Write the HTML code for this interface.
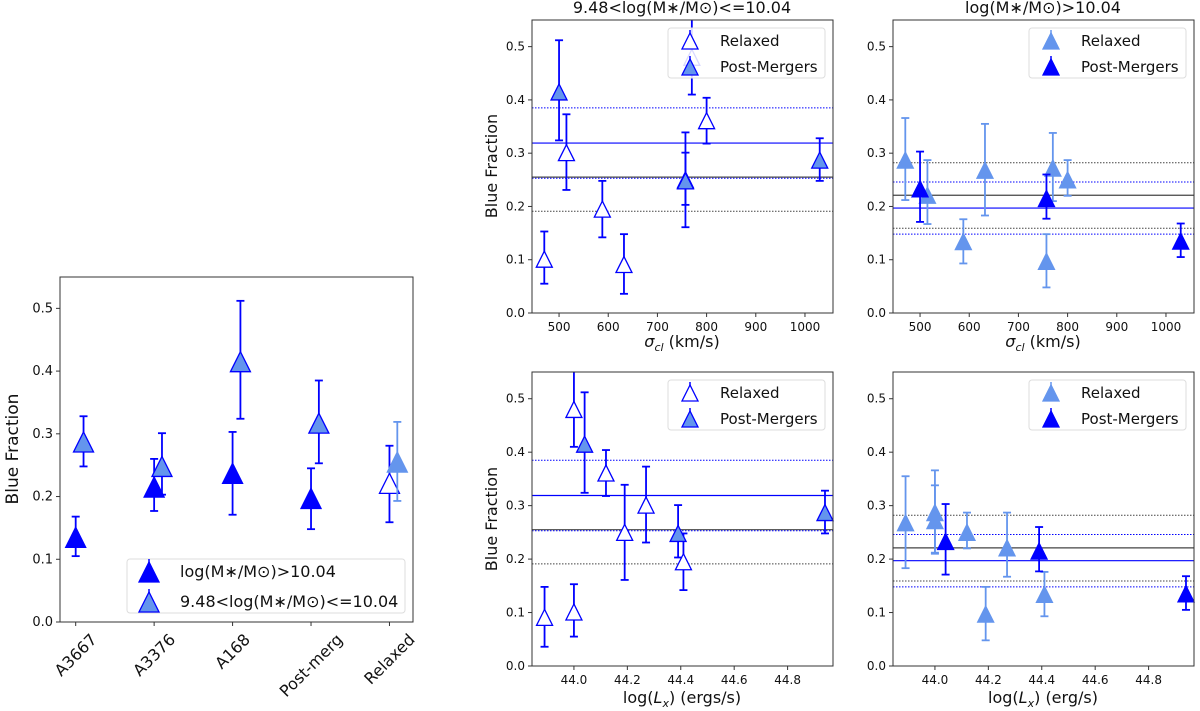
<!DOCTYPE html>
<html><head><meta charset="utf-8">
<style>
html,body{margin:0;padding:0;background:#fff;}
svg{display:block;font-family:"DejaVu Sans","Liberation Sans",sans-serif;}
</style></head>
<body>
<svg id="fig" width="1200" height="711" viewBox="0 0 1200 711" xmlns="http://www.w3.org/2000/svg"></svg>
<script>
// ---------- Left summary panel data ----------
const sumCats = ["A3667","A3376","A168","Post-merg","Relaxed"];
const sumHigh = [0.135,0.215,0.237,0.197,0.221];
const sumHighLo = [0.105,0.177,0.171,0.148,0.159];
const sumHighHi = [0.168,0.260,0.303,0.245,0.281];
const sumLow = [0.287,0.248,0.415,0.317,0.255];
const sumLowLo = [0.248,0.203,0.324,0.253,0.193];
const sumLowHi = [0.328,0.301,0.512,0.385,0.319];
const yTicks = [0.0,0.1,0.2,0.3,0.4,0.5];

// ---------- Cluster data (sigma, Lx) ----------
const relSigma = [470,515,588,632,757,770,800];
const pmSigma = [500,757,1030];
const pmLx    = [44.04,44.39,44.94];
// low-mass bin blue fractions
const relLowVal = [0.101,0.301,0.195,0.091,0.250,0.480,0.361];
const relLowLo  = [0.055,0.231,0.142,0.036,0.161,0.410,0.318];
const relLowHi  = [0.153,0.373,0.248,0.148,0.339,0.570,0.404];
const pmLowVal = [0.415,0.248,0.287];
const pmLowLo  = [0.324,0.203,0.248];
const pmLowHi  = [0.512,0.301,0.328];
// high-mass bin blue fractions
const relHighVal = [0.287,0.221,0.134,0.268,0.097,0.272,0.250];
const relHighLo  = [0.212,0.167,0.093,0.183,0.048,0.210,0.220];
const relHighHi  = [0.366,0.287,0.176,0.355,0.148,0.338,0.287];
const pmHighVal = [0.233,0.215,0.135];
const pmHighLo  = [0.171,0.177,0.105];
const pmHighHi  = [0.303,0.260,0.168];
// Lx for relaxed clusters (same order as relSigma)
const relLxVals = [44.0,44.27,44.41,43.89,44.19,44.0,44.12];
// reference lines
const lowLinesSolid = [{v:0.319,c:"#0000ff"},{v:0.255,c:"#444"}];
const lowLinesDot = [{v:0.385,c:"#0000ff"},{v:0.253,c:"#0000ff"},{v:0.191,c:"#444"}];
const highLinesSolid = [{v:0.221,c:"#444"},{v:0.197,c:"#0000ff"}];
const highLinesDot = [{v:0.282,c:"#444"},{v:0.159,c:"#444"},{v:0.246,c:"#0000ff"},{v:0.148,c:"#0000ff"}];
const sigTicks = [500,600,700,800,900,1000];
const lxTicks = [44.0,44.2,44.4,44.6,44.8];

const NS="http://www.w3.org/2000/svg";
const svg=document.getElementById('fig');
const BLUE="#0000ff", LIGHT="#6495ed";
function mk(tag,attrs,parent){const e=document.createElementNS(NS,tag);for(const k in attrs)e.setAttribute(k,attrs[k]);(parent||svg).appendChild(e);return e;}
function txt(s,attrs,parent){const e=mk('text',attrs,parent);e.textContent=s;return e;}

function makeAxes(name,L,R,T,B,xmin,xmax){
  const g=mk('g',{});
  
  
  const sx=v=>L+(v-xmin)/(xmax-xmin)*(R-L);
  const sy=v=>B-(v-0)/(0.55)*(B-T);
  return {g,sx,sy,L,R,T,B};
}
function frame(ax){
  const r=mk('rect',{x:ax.L,y:ax.T,width:ax.R-ax.L,height:ax.B-ax.T,fill:'none',stroke:'#333','stroke-width':1},ax.g);
  
  
}
function yAxis(ax,fs){
  yTicks.forEach(t=>{
    const y=ax.sy(t);
    mk('line',{x1:ax.L-4,x2:ax.L,y1:y,y2:y,stroke:'#333'},ax.g);
    const e=txt(t.toFixed(1),{x:ax.L-7,y:y+4,'font-size':fs,'text-anchor':'end',fill:'#111'},ax.g);
    
    
  });
}
function xAxis(ax,ticks,fmt){
  ticks.forEach(t=>{
    const x=ax.sx(t);
    mk('line',{x1:x,x2:x,y1:ax.B,y2:ax.B+4,stroke:'#333'},ax.g);
    const e=txt(fmt(t),{x:x,y:ax.B+18,'font-size':12,'text-anchor':'middle',fill:'#111'},ax.g);
    
    
  });
}
function hlines(ax,solid,dot){
  solid.forEach(l=>{const e=mk('line',{x1:ax.L,x2:ax.R,y1:ax.sy(l.v),y2:ax.sy(l.v),stroke:l.c,'stroke-width':1.2},ax.g);
    });
  dot.forEach(l=>{const e=mk('line',{x1:ax.L,x2:ax.R,y1:ax.sy(l.v),y2:ax.sy(l.v),stroke:l.c,'stroke-width':1,'stroke-dasharray':'1.5,1.5'},ax.g);
    });
}
function tri(parent,cx,cy,s,fill,edge,name){
  const p=mk('polygon',{points:`${cx},${cy-s} ${cx-s},${cy+s} ${cx+s},${cy+s}`,fill:fill,stroke:edge,'stroke-width':1.3},parent);
  
  
  return p;
}
function errbar(ax,px,lo,hi,col,cap){
  const yl=Math.min(ax.sy(lo),ax.B), yh=Math.max(ax.sy(hi),ax.T);
  const g=mk('g',{},ax.g);
  
  
  mk('line',{x1:px,x2:px,y1:yl,y2:yh,stroke:col,'stroke-width':1.8},g);
  if(ax.sy(lo)<=ax.B) mk('line',{x1:px-cap,x2:px+cap,y1:yl,y2:yl,stroke:col,'stroke-width':1.8},g);
  if(ax.sy(hi)>=ax.T) mk('line',{x1:px-cap,x2:px+cap,y1:yh,y2:yh,stroke:col,'stroke-width':1.8},g);
}
function series(ax,xs,vals,lo,hi,fill,edge,ecol,s,name){
  xs.forEach((x,i)=>{
    errbar(ax,ax.sx(x),lo[i],hi[i],ecol,4);
  });
  xs.forEach((x,i)=>{
    const cy=ax.sy(vals[i]);
    if(cy<ax.T-s) return;
    tri(ax.g,ax.sx(x),cy,s,fill,edge,name);
  });
}
function legend(ax,x,y,w,h,items,fs,s,textX){
  const g=mk('g',{},ax.g);
  
  
  mk('rect',{x:x,y:y,width:w,height:h,rx:3,fill:'#fff','fill-opacity':0.85,stroke:'#ddd'},g);
  items.forEach((it,i)=>{
    const cy=y+12+i*(h-24);
    const m=mk('g',{},g);
    
    
    mk('line',{x1:x+22,x2:x+22,y1:cy-s-2,y2:cy,stroke:it.e,'stroke-width':1.5},m);
    tri(m,x+22,cy+1,s,it.f,it.e,'legend-marker');
    txt(it.label,{x:textX,y:cy+6,'font-size':fs,fill:'#111'},m);
  });
}
function labelY(x,y,s,fs){
  const e=txt(s,{x:x,y:y,'font-size':fs,'text-anchor':'middle',fill:'#111',transform:`rotate(-90 ${x} ${y})`});
  
  
}

// ---------- Left panel ----------
(function(){
  const ax=makeAxes('summary-panel',60,413,277,622,-0.2,4.3);
  ax.sy=v=>622-v/0.55*(622-277);
  const idx=sumCats.map((c,i)=>i);
  const idx2=idx.map(i=>i+0.1);
  idx.forEach(i=>errbar(ax,ax.sx(i),sumHighLo[i],sumHighHi[i],BLUE,4));
  idx.forEach(i=>tri(ax.g,ax.sx(i),ax.sy(sumHigh[i]),10,i===4?'#fff':BLUE,BLUE,'marker-high-mass'));
  idx2.forEach((x,i)=>errbar(ax,ax.sx(x),sumLowLo[i],sumLowHi[i],i===4?LIGHT:BLUE,4));
  idx2.forEach((x,i)=>tri(ax.g,ax.sx(x),ax.sy(sumLow[i]),10,LIGHT,i===4?LIGHT:BLUE,'marker-low-mass'));
  frame(ax);
  yAxis(ax,13);
  idx.forEach(i=>{
    const x=ax.sx(i);
    mk('line',{x1:x,x2:x,y1:622,y2:626,stroke:'#333'},ax.g);
    const e=txt(sumCats[i],{x:x,y:0,'font-size':16,'text-anchor':'middle','dominant-baseline':'central',fill:'#111'},ax.g);
    
    
    const w=e.getComputedTextLength(), h=16;
    const cy=631+(w+h)/(2*Math.SQRT2);
    e.setAttribute('y',cy);
    e.setAttribute('transform',`rotate(-45 ${x} ${cy})`);
  });
  legend(ax,127,559,278,54,[
    {f:BLUE,e:BLUE,label:'log(M\u2217/M\u2299)>10.04'},
    {f:LIGHT,e:BLUE,label:'9.48<log(M\u2217/M\u2299)<=10.04'}],16,10,180);
  labelY(18,449,'Blue Fraction',17);
})();

// ---------- Middle / right panels ----------
function clusterPanel(name,L,R,T,B,xmin,xmax,ticks,fmt,relX,pmX,low,legendY){
  const ax=makeAxes(name,L,R,T,B,xmin,xmax);
  if(low){
    hlines(ax,lowLinesSolid,lowLinesDot);
    series(ax,relX,relLowVal,relLowLo,relLowHi,'#fff',BLUE,BLUE,8,'marker-relaxed');
    series(ax,pmX,pmLowVal,pmLowLo,pmLowHi,LIGHT,BLUE,BLUE,8,'marker-post-merger');
  } else {
    hlines(ax,highLinesSolid,highLinesDot);
    series(ax,relX,relHighVal,relHighLo,relHighHi,LIGHT,LIGHT,LIGHT,8,'marker-relaxed');
    series(ax,pmX,pmHighVal,pmHighLo,pmHighHi,BLUE,BLUE,BLUE,8,'marker-post-merger');
  }
  frame(ax);
  yAxis(ax,12);
  xAxis(ax,ticks,fmt);
  const items= low ? [{f:'#fff',e:BLUE,label:'Relaxed'},{f:LIGHT,e:BLUE,label:'Post-Mergers'}]
                   : [{f:LIGHT,e:LIGHT,label:'Relaxed'},{f:BLUE,e:BLUE,label:'Post-Mergers'}];
  legend(ax,R-165,legendY,157,50,items,15,8,R-113);
  return ax;
}
const sigFmt=t=>String(t), lxFmt=t=>t.toFixed(1);
clusterPanel('sigma-low-mass-panel',532,833,20,313,445,1057,sigTicks,sigFmt,relSigma,pmSigma,true,28);
clusterPanel('sigma-high-mass-panel',893,1194,20,313,445,1057,sigTicks,sigFmt,relSigma,pmSigma,false,28);
clusterPanel('lx-low-mass-panel',532,833,372,666,43.843,44.97,lxTicks,lxFmt,relLxVals,pmLx,true,380);
clusterPanel('lx-high-mass-panel',893,1194,372,666,43.843,44.97,lxTicks,lxFmt,relLxVals,pmLx,false,380);

function t(s,x,y,fs,name){const e=txt(s,{x:x,y:y,'font-size':fs,'text-anchor':'middle',fill:'#111'});return e;}
t('9.48<log(M\u2217/M\u2299)<=10.04',682,13,16,'title-low-mass');
t('log(M\u2217/M\u2299)>10.04',1043,13,16,'title-high-mass');
function sigLabel(x,name){
  const e=mk('text',{x:x,y:347,'font-size':16,'text-anchor':'middle',fill:'#111'});
  
  const a=mk('tspan',{'font-style':'italic'},e);a.textContent='\u03c3';
  const b=mk('tspan',{'font-style':'italic','font-size':11,dy:4},e);b.textContent='cl';
  const c=mk('tspan',{dy:-4},e);c.textContent=' (km/s)';
}
sigLabel(682,'x-axis-title-sigma-low');
sigLabel(1043,'x-axis-title-sigma-high');
function lxLabel(x,unit,name){
  const e=mk('text',{x:x,y:703,'font-size':16,'text-anchor':'middle',fill:'#111'});
  
  const a=mk('tspan',{},e);a.textContent='log(';
  const b=mk('tspan',{'font-style':'italic'},e);b.textContent='L';
  const c=mk('tspan',{'font-style':'italic','font-size':11,dy:4},e);c.textContent='x';
  const d=mk('tspan',{dy:-4},e);d.textContent=') '+unit;
}
lxLabel(682,'(ergs/s)','x-axis-title-lx-low');
lxLabel(1043,'(erg/s)','x-axis-title-lx-high');
labelY(497,166,'Blue Fraction',16);
labelY(497,519,'Blue Fraction',16);
</script>
</body></html>
